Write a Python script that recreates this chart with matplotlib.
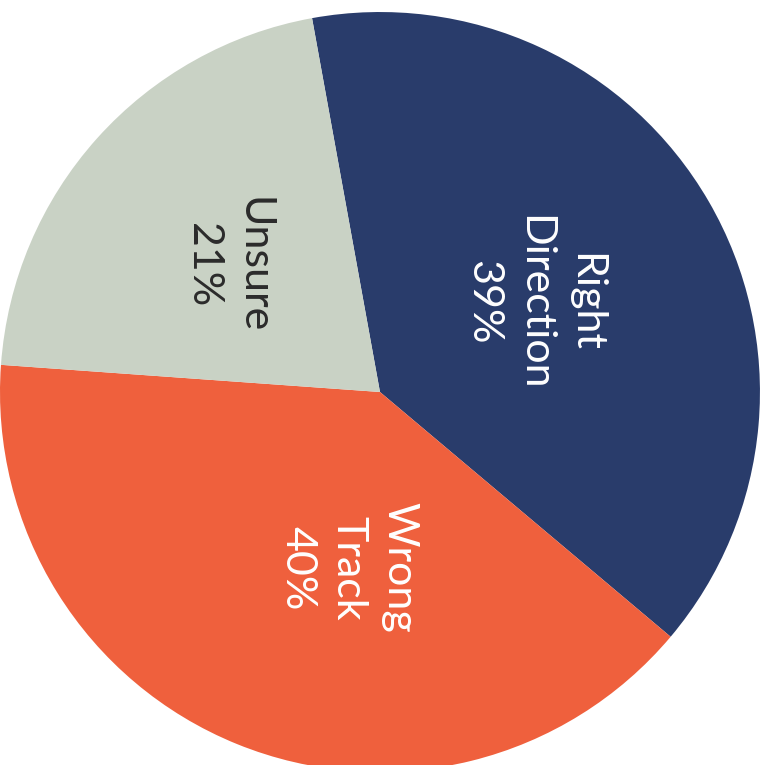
import numpy as np
import matplotlib
matplotlib.use("Agg")
import matplotlib.pyplot as plt

labels = ["Right\nDirection", "Wrong\nTrack", "Unsure"]
values = [39, 40, 21]
colors = ["#293c6b", "#ef603d", "#c9d2c5"]
text_colors = ["white", "white", "#2b2b2b"]
# angular nudge (deg) and distance for each label, measured from slice middle
label_shift = [0, 12, 2]
label_dist = [0.47, 0.47, 0.52]

fig = plt.figure(figsize=(7.63, 7.65), dpi=100)
ax = fig.add_axes([0, 0, 1, 1])

wedges, _ = ax.pie(values, colors=colors, startangle=100.3, counterclock=False,
                   radius=1.0, wedgeprops=dict(linewidth=0))

for w, lab, v, tc, sh, d in zip(wedges, labels, values, text_colors, label_shift, label_dist):
    mid = np.deg2rad((w.theta1 + w.theta2) / 2 + sh)
    x, y = d * np.cos(mid), d * np.sin(mid)
    ax.text(x, y, "%s\n%d%%" % (lab, v), rotation=-90, ha="center", va="center",
            multialignment="center", color=tc, fontsize=31, fontweight="normal",
            family=["Lato", "DejaVu Sans"], linespacing=1.42)

ax.set_xlim(-1.0, 1.008)
ax.set_ylim(-0.9816, 1.0316)
ax.axis("off")

fig.savefig("out.png", dpi=100, facecolor="white")
